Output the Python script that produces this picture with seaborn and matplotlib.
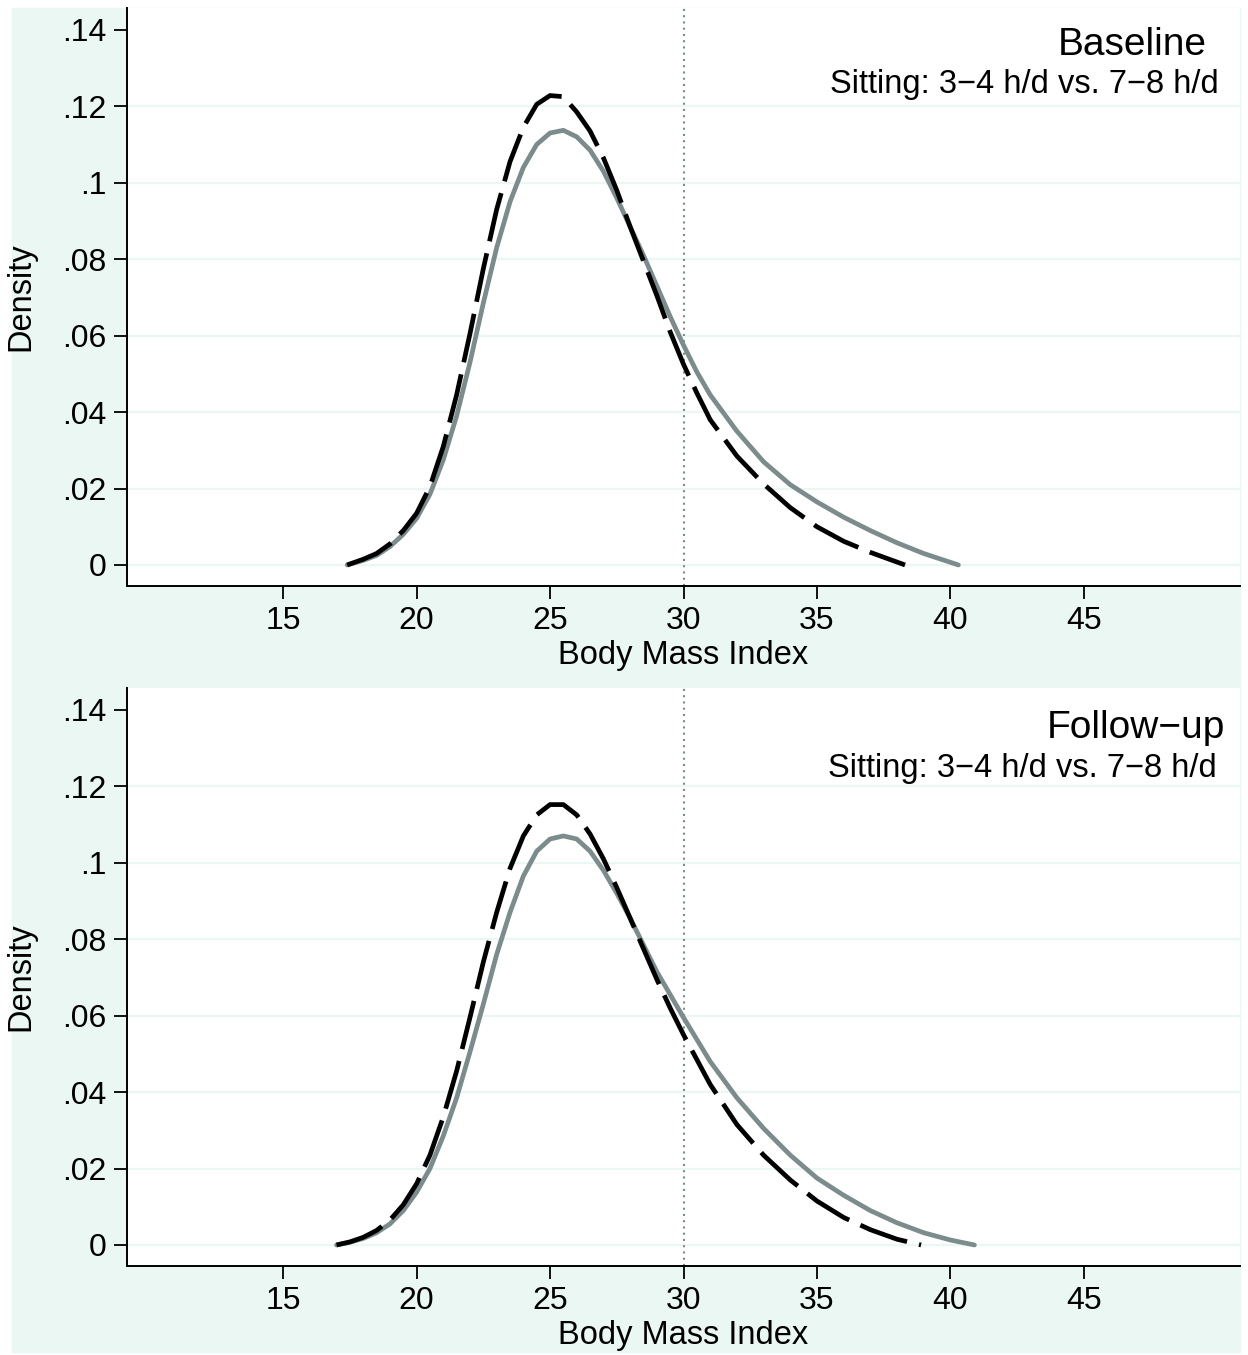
import matplotlib.pyplot as plt
import matplotlib.patches as mpatches
import pandas as pd
import seaborn as sns

# kernel density of BMI
# baseline, dashed curve (3-4 h/d)
bmi_base_34 = [17.4, 18.0, 18.5, 19.0, 19.5, 20.0, 20.5, 21.0, 21.5, 22.0, 22.5, 23.0,
               23.5, 24.0, 24.5, 25.0, 25.5, 26.0, 26.5, 27.0, 27.5, 28.0, 28.5, 29.0,
               29.5, 30.0, 30.5, 31.0, 32.0, 33.0, 34.0, 35.0, 36.0, 37.0, 38.3]
dens_base_34 = [0.0, 0.0015, 0.003, 0.0055, 0.009, 0.0135, 0.0205, 0.031, 0.0445, 0.0605,
                0.0775, 0.093, 0.1055, 0.1145, 0.1205, 0.1228, 0.1225, 0.1185, 0.1135,
                0.1065, 0.098, 0.0885, 0.0795, 0.0705, 0.061, 0.0525, 0.045, 0.038,
                0.0285, 0.0212, 0.015, 0.010, 0.0062, 0.0033, 0.0]
# baseline, grey curve (7-8 h/d)
bmi_base_78 = [17.4, 18.0, 18.5, 19.0, 19.5, 20.0, 20.5, 21.0, 21.5, 22.0, 22.5, 23.0,
               23.5, 24.0, 24.5, 25.0, 25.5, 26.0, 26.5, 27.0, 27.5, 28.0, 28.5, 29.0,
               29.5, 30.0, 30.5, 31.0, 32.0, 33.0, 34.0, 35.0, 36.0, 37.0, 38.0, 39.0, 40.3]
dens_base_78 = [0.0, 0.0012, 0.0025, 0.0048, 0.008, 0.0122, 0.0185, 0.0275, 0.039, 0.053,
                0.0685, 0.083, 0.095, 0.104, 0.110, 0.113, 0.1137, 0.112, 0.1085, 0.103,
                0.096, 0.0885, 0.081, 0.073, 0.065, 0.0575, 0.0505, 0.0445, 0.035, 0.027,
                0.021, 0.0165, 0.0125, 0.009, 0.0058, 0.003, 0.0]
# follow-up, dashed curve (3-4 h/d)
bmi_fu_34 = [17.0, 17.5, 18.0, 18.5, 19.0, 19.5, 20.0, 20.5, 21.0, 21.5, 22.0, 22.5, 23.0,
             23.5, 24.0, 24.5, 25.0, 25.5, 26.0, 26.5, 27.0, 27.5, 28.0, 28.5, 29.0, 29.5,
             30.0, 31.0, 32.0, 33.0, 34.0, 35.0, 36.0, 37.0, 38.0, 38.9]
dens_fu_34 = [0.0, 0.0008, 0.002, 0.0038, 0.0065, 0.0105, 0.016, 0.0235, 0.0335, 0.0455,
              0.0595, 0.074, 0.087, 0.0985, 0.107, 0.1125, 0.1152, 0.1152, 0.1125, 0.1075,
              0.101, 0.0935, 0.0855, 0.0775, 0.0695, 0.062, 0.055, 0.042, 0.0315, 0.0235,
              0.017, 0.0115, 0.0072, 0.004, 0.0015, 0.0]
# follow-up, grey curve (7-8 h/d)
bmi_fu_78 = [17.0, 17.5, 18.0, 18.5, 19.0, 19.5, 20.0, 20.5, 21.0, 21.5, 22.0, 22.5, 23.0,
             23.5, 24.0, 24.5, 25.0, 25.5, 26.0, 26.5, 27.0, 27.5, 28.0, 28.5, 29.0, 29.5,
             30.0, 31.0, 32.0, 33.0, 34.0, 35.0, 36.0, 37.0, 38.0, 39.0, 40.0, 40.9]
dens_fu_78 = [0.0, 0.0007, 0.0017, 0.0032, 0.0055, 0.009, 0.0138, 0.02, 0.0285, 0.0385,
              0.0505, 0.063, 0.076, 0.087, 0.0965, 0.103, 0.1062, 0.107, 0.1062, 0.103,
              0.098, 0.092, 0.0855, 0.0785, 0.0715, 0.0655, 0.0595, 0.048, 0.0385, 0.0305,
              0.0235, 0.0175, 0.013, 0.009, 0.0058, 0.0032, 0.0013, 0.0]

x_ticks = [15, 20, 25, 30, 35, 40, 45]
y_ticks = [0, 0.02, 0.04, 0.06, 0.08, 0.10, 0.12, 0.14]
y_labels = ['0', '.02', '.04', '.06', '.08', '.1', '.12', '.14']
panel_titles = ['Baseline', 'Follow\u2212up']
subtitle = 'Sitting: 3\u22124 h/d vs. 7\u22128 h/d'
groups = ['7\u22128 h/d', '3\u22124 h/d']

MINT = '#eaf7f3'
GREY = '#7c8b8b'

sns.set_style('white')
plt.rcParams['font.family'] = ['Liberation Sans', 'DejaVu Sans']
plt.rcParams.update({'text.color': 'black', 'axes.labelcolor': 'black',
                     'xtick.color': 'black', 'ytick.color': 'black'})

W, H = 1248, 1355
fig = plt.figure(figsize=(W / 100, H / 100), dpi=100)
fig.patches.append(mpatches.Rectangle((12 / W, 3 / H), 1228 / W, 1344 / H,
                                      transform=fig.transFigure, color=MINT, zorder=-10))

panels = [
    (586, bmi_base_78, dens_base_78, bmi_base_34, dens_base_34),
    (1266, bmi_fu_78, dens_fu_78, bmi_fu_34, dens_fu_34),
]
title_pos = [(0.970, 0.919, 0.981, 0.853), (0.9865, 0.913, 0.979, 0.846)]

for i, (bottom_px, xg, yg, xd, yd) in enumerate(panels):
    ax = fig.add_axes([127 / W, (H - bottom_px) / H, 1113 / W, 578 / H])
    ax.set_facecolor('white')

    df = pd.concat([
        pd.DataFrame({'bmi': xg, 'density': yg, 'group': groups[0]}),
        pd.DataFrame({'bmi': xd, 'density': yd, 'group': groups[1]}),
    ])

    for v in y_ticks[:-1]:
        ax.axhline(v, color=MINT, lw=1.6, zorder=0)
    ax.axvline(30, color=GREY, lw=1.5, linestyle=(0, (1, 2)), zorder=1)

    # long dashes like Stata's "longdash"
    sns.lineplot(data=df, x='bmi', y='density', hue='group', style='group',
                 hue_order=groups, style_order=groups,
                 palette={groups[0]: GREY, groups[1]: 'black'},
                 dashes={groups[0]: '', groups[1]: (10.5, 2.6)},
                 lw=3.4, sort=False, estimator=None, legend=False, ax=ax)

    ax.set_xlim(9.15, 50.85)
    ax.set_ylim(-0.0055, 0.1457)
    ax.set_xticks(x_ticks)
    ax.set_yticks(y_ticks, y_labels)
    ax.tick_params(length=9.5, width=1.3, labelsize=23, pad=5, color='black',
                   labelcolor='black', left=True, bottom=True)
    sns.despine(ax=ax)
    for side in ['left', 'bottom']:
        ax.spines[side].set_color('black')
        ax.spines[side].set_linewidth(1.4)

    ax.set_xlabel('Body Mass Index', fontsize=23.5, color='black')
    ax.set_ylabel('Density', fontsize=23.5, color='black')
    ax.xaxis.set_label_coords(0.5, -0.093)
    ax.yaxis.set_label_coords(-0.081, 0.5)

    tx, ty, sx, sy = title_pos[i]
    ax.text(tx, ty, panel_titles[i], transform=ax.transAxes, ha='right',
            va='baseline', fontsize=28, color='black')
    ax.text(sx, sy, subtitle, transform=ax.transAxes, ha='right',
            va='baseline', fontsize=23.5, color='black')

fig.savefig('out.png', dpi=100)
